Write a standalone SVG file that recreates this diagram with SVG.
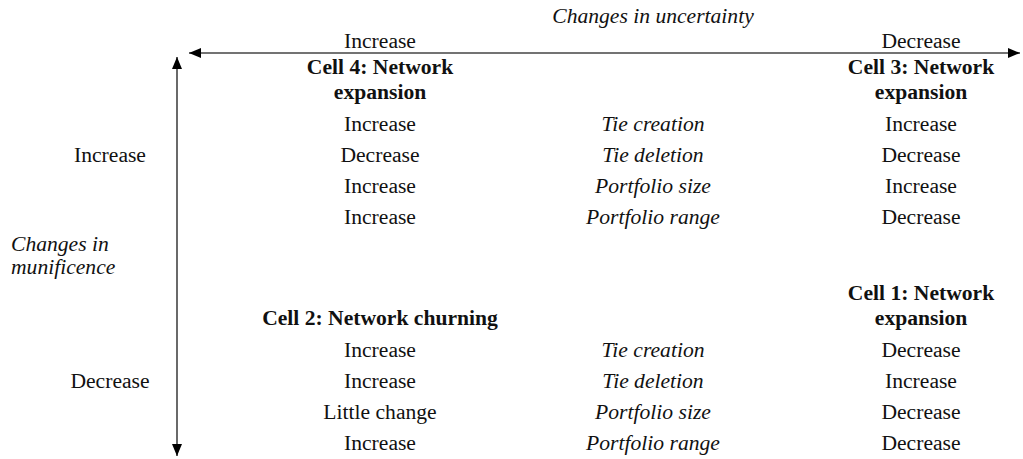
<svg xmlns="http://www.w3.org/2000/svg" width="1023" height="459" viewBox="0 0 1023 459">
<style>
text{font-family:"Liberation Serif","Times New Roman",serif;font-size:21.6px;fill:#111;}
.c{text-anchor:middle;}
.i{font-style:italic;}
.b{font-weight:bold;}
.ax{stroke:#444;stroke-width:1.6;fill:none;}
</style>
<defs>
<marker id="ah" viewBox="0 0 12 10" refX="12" refY="5" markerWidth="12" markerHeight="10" markerUnits="userSpaceOnUse" orient="auto-start-reverse">
<path d="M0,0 L12,5 L0,10 Z" fill="#000"/>
</marker>
</defs>
<g id="connectors">
<line class="ax" x1="189" y1="53" x2="1020" y2="53" marker-start="url(#ah)" marker-end="url(#ah)"/>
<line class="ax" x1="177" y1="57" x2="177" y2="456" marker-start="url(#ah)" marker-end="url(#ah)"/>
</g>
<g id="axis-labels">
<text class="c i" x="653" y="23">Changes in uncertainty</text>
<text class="c" x="380" y="48">Increase</text>
<text class="c" x="921" y="48">Decrease</text>
<text x="11" y="251" class="i">Changes in</text>
<text x="11" y="274" class="i">munificence</text>
<text class="c" x="110" y="162">Increase</text>
<text class="c" x="110" y="388">Decrease</text>
</g>
<g id="cell4">
<text class="c b" x="380" y="74">Cell 4: Network</text>
<text class="c b" x="380" y="99">expansion</text>
<text class="c" x="380" y="131">Increase</text>
<text class="c" x="380" y="162">Decrease</text>
<text class="c" x="380" y="193">Increase</text>
<text class="c" x="380" y="224">Increase</text>
</g>
<g id="labels-top">
<text class="c i" x="653" y="131">Tie creation</text>
<text class="c i" x="653" y="162">Tie deletion</text>
<text class="c i" x="653" y="193">Portfolio size</text>
<text class="c i" x="653" y="224">Portfolio range</text>
</g>
<g id="cell3">
<text class="c b" x="921" y="74">Cell 3: Network</text>
<text class="c b" x="921" y="99">expansion</text>
<text class="c" x="921" y="131">Increase</text>
<text class="c" x="921" y="162">Decrease</text>
<text class="c" x="921" y="193">Increase</text>
<text class="c" x="921" y="224">Decrease</text>
</g>
<g id="cell2">
<text class="c b" x="380" y="325">Cell 2: Network churning</text>
<text class="c" x="380" y="357">Increase</text>
<text class="c" x="380" y="388">Increase</text>
<text class="c" x="380" y="419">Little change</text>
<text class="c" x="380" y="450">Increase</text>
</g>
<g id="labels-bottom">
<text class="c i" x="653" y="357">Tie creation</text>
<text class="c i" x="653" y="388">Tie deletion</text>
<text class="c i" x="653" y="419">Portfolio size</text>
<text class="c i" x="653" y="450">Portfolio range</text>
</g>
<g id="cell1">
<text class="c b" x="921" y="300">Cell 1: Network</text>
<text class="c b" x="921" y="325">expansion</text>
<text class="c" x="921" y="357">Decrease</text>
<text class="c" x="921" y="388">Increase</text>
<text class="c" x="921" y="419">Decrease</text>
<text class="c" x="921" y="450">Decrease</text>
</g>
</svg>
